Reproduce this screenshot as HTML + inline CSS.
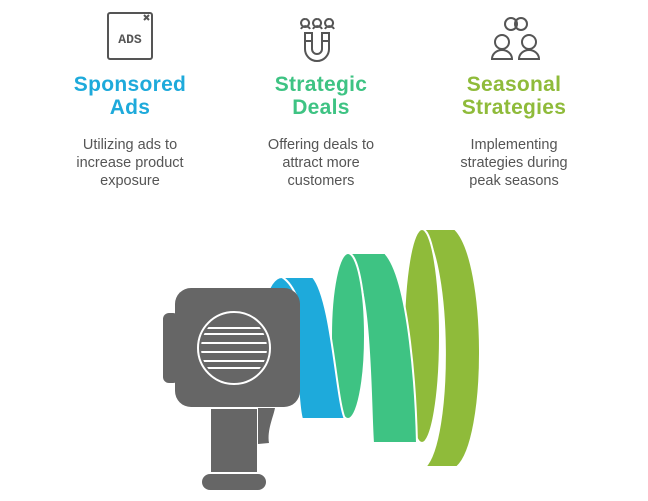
<!DOCTYPE html>
<html><head><meta charset="utf-8"><style>
html,body{margin:0;padding:0;background:#fff;}
body{width:648px;height:501px;position:relative;overflow:hidden;font-family:"Liberation Sans",sans-serif;}
.h{position:absolute;width:220px;text-align:center;font-weight:bold;font-size:21px;line-height:23px;top:73px;letter-spacing:0.3px;}
.d{position:absolute;width:200px;text-align:center;font-size:14.5px;line-height:18px;color:#555;top:136px;}
</style></head><body>
<div class="h" style="left:20px;color:#1eaadb">Sponsored<br>Ads</div>
<div class="h" style="left:211px;color:#3ec383">Strategic<br>Deals</div>
<div class="h" style="left:404px;color:#8fbb3a">Seasonal<br>Strategies</div>
<div class="d" style="left:30px">Utilizing ads to<br>increase product<br>exposure</div>
<div class="d" style="left:221px">Offering deals to<br>attract more<br>customers</div>
<div class="d" style="left:414px">Implementing<br>strategies during<br>peak seasons</div>
<svg width="648" height="501" style="position:absolute;left:0;top:0">
<defs><clipPath id="c"><circle cx="234" cy="348" r="33"/></clipPath></defs>
<g fill="none" stroke="#555" stroke-width="2">
<rect x="108" y="13" width="44" height="46" rx="2"/>
<path d="M144 15l5 5M149 15l-5 5"/>
<path d="M305 19a4 4 0 1 0 .1 0M301 29a5 5 0 0 1 9 0M317 19a4 4 0 1 0 .1 0M313 29a5 5 0 0 1 9 0M329 19a4 4 0 1 0 .1 0M325 29a5 5 0 0 1 9 0"/>
<path d="M305 33v16a12 12 0 0 0 24 0v-16h-7v16a5 5 0 0 1-10 0v-16zM305 41h7M322 41h7"/>
<circle cx="511" cy="24" r="6"/><circle cx="521" cy="24" r="6"/>
<circle cx="502" cy="42" r="7"/><path d="M492 59a10 9 0 0 1 20 0z"/>
<circle cx="529" cy="42" r="7"/><path d="M519 59a10 9 0 0 1 20 0z"/>
</g>
<text x="130" y="43" font-family="Liberation Mono,monospace" font-size="13" font-weight="bold" fill="#555" text-anchor="middle">ADS</text>
<g stroke="#fff" stroke-width="2">
<path d="M422 229H455C488 262 488 440 457 467H425C452 440 452 262 422 229Z" fill="#8fbb3a"/>
<ellipse cx="422" cy="336" rx="18" ry="107" fill="#8fbb3a"/>
<path d="M348 253H385C410 280 416 400 417 443H373C370 400 372 280 348 253Z" fill="#3ec383"/>
<ellipse cx="348" cy="336" rx="17" ry="83" fill="#3ec383"/>
<path d="M282 277H313C332 300 336 400 345 419H302C296 400 298 300 282 277Z" fill="#1eaadb"/>
<path d="M266 300C268 288 274 277 282 277C290 282 295 292 298 300Z" fill="#1eaadb"/>
</g>
<g fill="#666">
<rect x="163" y="313" width="16" height="70" rx="6"/>
<rect x="175" y="288" width="125" height="119" rx="16"/>
<path d="M258 408h17c-2 10-8 22-6 35l-11 1z"/>
<rect x="211" y="409" width="46" height="63"/>
<rect x="202" y="474" width="64" height="16" rx="8"/>
</g>
<g stroke="#fff" stroke-width="2" fill="none">
<circle cx="234" cy="348" r="36"/>
<g clip-path="url(#c)">
<rect x="190" y="310" width="88" height="18" rx="3"/>
<rect x="190" y="334" width="88" height="9" rx="3"/>
<rect x="190" y="352" width="88" height="9" rx="3"/>
<rect x="190" y="368" width="88" height="20" rx="3"/>
</g>
</g>
</svg>
</body></html>
